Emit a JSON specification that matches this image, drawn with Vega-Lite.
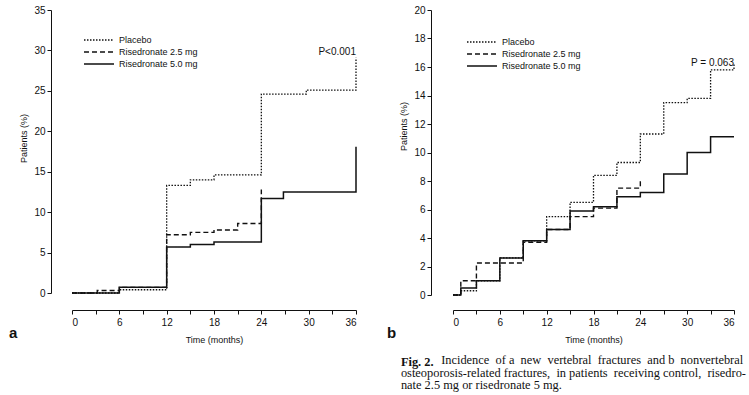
{
  "$schema": "https://vega.github.io/schema/vega-lite/v6.json",
  "background": "white",
  "padding": {"left": 8, "top": 5, "right": 2, "bottom": 2},
  "title": {
    "text": "Fig. 2.",
    "subtitle": ["\u200b\u00a0\u00a0\u00a0\u00a0\u00a0\u00a0\u00a0\u00a0\u00a0\u00a0\u00a0\u00a0\u00a0Incidence \u00a0of a \u00a0new \u00a0vertebral \u00a0fractures \u00a0and b \u00a0nonvertebral", "osteoporosis-related fractures, \u00a0in patients \u00a0receiving control, \u00a0risedro-", "nate 2.5 mg or risedronate 5 mg."],
    "orient": "bottom", "anchor": "start", "dx": 392, "offset": 12,
    "font": "Liberation Serif", "fontSize": 12.4, "fontWeight": "bold", "color": "#111",
    "subtitleFont": "Liberation Serif", "subtitleFontSize": 12.4, "subtitleFontWeight": "normal", "subtitleColor": "#111",
    "subtitlePadding": -14, "subtitleLineHeight": 12.4
  },
  "datasets": {
    "vert": [
      {"group": "Placebo", "month": 0, "pct": 0},
      {"group": "Placebo", "month": 6, "pct": 0.4},
      {"group": "Placebo", "month": 12, "pct": 13.3},
      {"group": "Placebo", "month": 15, "pct": 14.0},
      {"group": "Placebo", "month": 18, "pct": 14.6},
      {"group": "Placebo", "month": 24, "pct": 24.6},
      {"group": "Placebo", "month": 29.7, "pct": 25.1},
      {"group": "Placebo", "month": 36, "pct": 29.1},
      {"group": "Risedronate 2.5 mg", "month": 0, "pct": 0},
      {"group": "Risedronate 2.5 mg", "month": 3.2, "pct": 0.3},
      {"group": "Risedronate 2.5 mg", "month": 6, "pct": 0.7},
      {"group": "Risedronate 2.5 mg", "month": 12, "pct": 7.2},
      {"group": "Risedronate 2.5 mg", "month": 15, "pct": 7.5},
      {"group": "Risedronate 2.5 mg", "month": 18, "pct": 7.8},
      {"group": "Risedronate 2.5 mg", "month": 21, "pct": 8.6},
      {"group": "Risedronate 2.5 mg", "month": 24, "pct": 12.8},
      {"group": "Risedronate 5.0 mg", "month": 0, "pct": 0},
      {"group": "Risedronate 5.0 mg", "month": 6, "pct": 0.7},
      {"group": "Risedronate 5.0 mg", "month": 12, "pct": 5.7},
      {"group": "Risedronate 5.0 mg", "month": 15, "pct": 6.0},
      {"group": "Risedronate 5.0 mg", "month": 18, "pct": 6.3},
      {"group": "Risedronate 5.0 mg", "month": 24, "pct": 11.7},
      {"group": "Risedronate 5.0 mg", "month": 26.8, "pct": 12.5},
      {"group": "Risedronate 5.0 mg", "month": 36, "pct": 18.1}
    ],
    "nonvert": [
      {"group": "Placebo", "month": 0, "pct": 0},
      {"group": "Placebo", "month": 1, "pct": 0.3},
      {"group": "Placebo", "month": 3, "pct": 1.0},
      {"group": "Placebo", "month": 6, "pct": 2.6},
      {"group": "Placebo", "month": 9, "pct": 3.8},
      {"group": "Placebo", "month": 12, "pct": 5.5},
      {"group": "Placebo", "month": 15, "pct": 6.5},
      {"group": "Placebo", "month": 18, "pct": 8.4},
      {"group": "Placebo", "month": 21, "pct": 9.3},
      {"group": "Placebo", "month": 24, "pct": 11.3},
      {"group": "Placebo", "month": 27, "pct": 13.5},
      {"group": "Placebo", "month": 30, "pct": 13.8},
      {"group": "Placebo", "month": 33, "pct": 15.8},
      {"group": "Placebo", "month": 36, "pct": 16.2},
      {"group": "Risedronate 2.5 mg", "month": 0, "pct": 0},
      {"group": "Risedronate 2.5 mg", "month": 1, "pct": 1.0},
      {"group": "Risedronate 2.5 mg", "month": 3, "pct": 2.25},
      {"group": "Risedronate 2.5 mg", "month": 9, "pct": 3.7},
      {"group": "Risedronate 2.5 mg", "month": 12, "pct": 4.6},
      {"group": "Risedronate 2.5 mg", "month": 15, "pct": 5.5},
      {"group": "Risedronate 2.5 mg", "month": 18, "pct": 6.1},
      {"group": "Risedronate 2.5 mg", "month": 21, "pct": 7.5},
      {"group": "Risedronate 2.5 mg", "month": 24, "pct": 8.0},
      {"group": "Risedronate 5.0 mg", "month": 0, "pct": 0},
      {"group": "Risedronate 5.0 mg", "month": 1, "pct": 0.5},
      {"group": "Risedronate 5.0 mg", "month": 3, "pct": 1.0},
      {"group": "Risedronate 5.0 mg", "month": 6, "pct": 2.6},
      {"group": "Risedronate 5.0 mg", "month": 9, "pct": 3.8},
      {"group": "Risedronate 5.0 mg", "month": 12, "pct": 4.6},
      {"group": "Risedronate 5.0 mg", "month": 15, "pct": 5.9},
      {"group": "Risedronate 5.0 mg", "month": 18, "pct": 6.2},
      {"group": "Risedronate 5.0 mg", "month": 21, "pct": 6.9},
      {"group": "Risedronate 5.0 mg", "month": 24, "pct": 7.2},
      {"group": "Risedronate 5.0 mg", "month": 27, "pct": 8.5},
      {"group": "Risedronate 5.0 mg", "month": 30, "pct": 10.0},
      {"group": "Risedronate 5.0 mg", "month": 33, "pct": 11.1},
      {"group": "Risedronate 5.0 mg", "month": 36, "pct": 11.1}
    ],
    "pa": [{"month": 36, "pct": 29.8, "label": "P<0.001"}],
    "pb": [{"month": 36, "pct": 16.3, "label": "P = 0.063"}]
  },
  "config": {
    "view": {"stroke": null},
    "font": "Liberation Sans",
    "axis": {
      "grid": false,
      "domainColor": "#111",
      "tickColor": "#111",
      "labelColor": "#111",
      "titleColor": "#111",
      "labelFont": "Liberation Sans",
      "titleFont": "Liberation Sans",
      "labelFontSize": 10,
      "titleFontSize": 9,
      "titleFontWeight": "normal",
      "tickSize": 4,
      "labelPadding": 2,
      "labelOverlap": false
    },
    "legend": {
      "orient": "none",
      "symbolType": "M-3,0L3,0",
      "symbolSize": 100,
      "symbolStrokeColor": "#111",
      "symbolStrokeWidth": 1.5,
      "labelFont": "Liberation Sans",
      "labelFontSize": 9,
      "labelColor": "#111",
      "rowPadding": 1,
      "labelOffset": 14
    }
  },
  "resolve": {"scale": {"strokeDash": "independent", "strokeWidth": "independent"}, "legend": {"strokeDash": "independent"}},
  "spacing": 27,
  "hconcat": [
    {
      "width": 284,
      "height": 283,
      "title": {"text": "a", "orient": "bottom", "anchor": "start", "dx": -11, "dy": -22, "fontSize": 15, "fontWeight": "bold", "font": "Liberation Sans", "color": "#111"},
      "layer": [
        {
          "data": {"name": "vert"},
          "mark": {"type": "line", "interpolate": "step-after", "color": "#111"},
          "encoding": {
            "x": {"field": "month", "type": "quantitative", "scale": {"domain": [0, 36], "nice": false},
              "axis": {"values": [0, 3, 6, 9, 12, 15, 18, 21, 24, 27, 30, 33, 36], "tickCount": 13, "labelExpr": "datum.value % 6 === 0 ? datum.label : ''", "offset": 17, "labelPadding": 3, "title": "Time (months)", "titlePadding": 8, "labelOverlap": false}},
            "y": {"field": "pct", "type": "quantitative", "scale": {"domain": [0, 35], "nice": false},
              "axis": {"values": [0, 5, 10, 15, 20, 25, 30, 35], "tickCount": 8, "offset": 21, "title": "Patients (%)", "titleY": 128, "titlePadding": 5, "labelOverlap": false}},
            "strokeDash": {"field": "group", "type": "nominal",
              "scale": {"domain": ["Placebo", "Risedronate 2.5 mg", "Risedronate 5.0 mg"], "range": [[1.5, 1.5], [5, 3], [1, 0]]},
              "legend": {"title": null, "legendX": 21, "legendY": 24}},
            "strokeWidth": {"field": "group", "type": "nominal",
              "scale": {"domain": ["Placebo", "Risedronate 2.5 mg", "Risedronate 5.0 mg"], "range": [1.3, 1.5, 1.8]},
              "legend": null}
          }
        },
        {
          "data": {"name": "pa"},
          "mark": {"type": "text", "align": "right", "baseline": "middle", "fontSize": 10, "font": "Liberation Sans", "color": "#111"},
          "encoding": {
            "x": {"field": "month", "type": "quantitative"},
            "y": {"field": "pct", "type": "quantitative"},
            "text": {"field": "label"}
          }
        }
      ]
    },
    {
      "width": 281,
      "height": 285,
      "title": {"text": "b", "orient": "bottom", "anchor": "start", "dx": -13, "dy": -22, "fontSize": 15, "fontWeight": "bold", "font": "Liberation Sans", "color": "#111"},
      "layer": [
        {
          "data": {"name": "nonvert"},
          "mark": {"type": "line", "interpolate": "step-after", "color": "#111"},
          "encoding": {
            "x": {"field": "month", "type": "quantitative", "scale": {"domain": [0, 36], "nice": false},
              "axis": {"values": [0, 3, 6, 9, 12, 15, 18, 21, 24, 27, 30, 33, 36], "tickCount": 13, "labelExpr": "datum.value % 6 === 0 ? datum.label : ''", "offset": 15, "labelPadding": 3, "title": "Time (months)", "titlePadding": 8, "labelOverlap": false}},
            "y": {"field": "pct", "type": "quantitative", "scale": {"domain": [0, 20], "nice": false},
              "axis": {"values": [0, 2, 4, 6, 8, 10, 12, 14, 16, 18, 20], "tickCount": 11, "offset": 22, "title": "Patients (%)", "titleY": 116, "titlePadding": 5, "labelOverlap": false}},
            "strokeDash": {"field": "group", "type": "nominal",
              "scale": {"domain": ["Placebo", "Risedronate 2.5 mg", "Risedronate 5.0 mg"], "range": [[1.5, 1.5], [5, 3], [1, 0]]},
              "legend": {"title": null, "legendX": 23, "legendY": 26}},
            "strokeWidth": {"field": "group", "type": "nominal",
              "scale": {"domain": ["Placebo", "Risedronate 2.5 mg", "Risedronate 5.0 mg"], "range": [1.3, 1.5, 1.8]},
              "legend": null}
          }
        },
        {
          "data": {"name": "pb"},
          "mark": {"type": "text", "align": "right", "baseline": "middle", "fontSize": 10, "font": "Liberation Sans", "color": "#111"},
          "encoding": {
            "x": {"field": "month", "type": "quantitative"},
            "y": {"field": "pct", "type": "quantitative"},
            "text": {"field": "label"}
          }
        }
      ]
    }
  ]
}
